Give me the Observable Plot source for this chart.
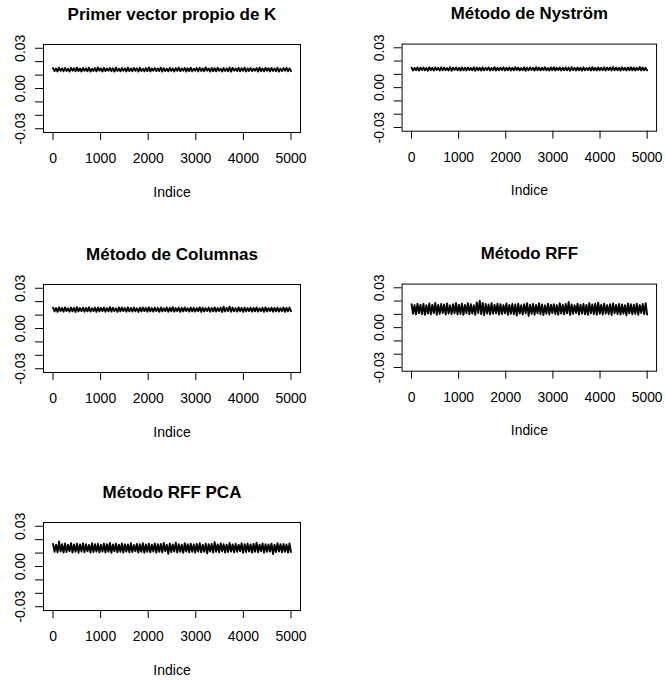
<!DOCTYPE html>
<html><head><meta charset="utf-8">
<script src="https://cdn.jsdelivr.net/npm/d3@7"></script>
<script src="https://cdn.jsdelivr.net/npm/@observablehq/plot@0.6"></script>
<style>
body{margin:0;background:#fff;}
#root{position:relative;width:666px;height:681px;font-family:"Liberation Sans",Arial,sans-serif;}
.panel{position:absolute;}
</style></head><body><div id="root"></div>
<script>
const titles = ["Primer vector propio de K","Método de Nyström","Método de Columnas","Método RFF","Método RFF PCA"];
const xLabel = "Indice";
const xTicks = [0,1000,2000,3000,4000,5000];
const yTicks = [-0.03,-0.02,-0.01,0,0.01,0.02,0.03];
const yLabelValues = [-0.03,0,0.03];
const yLabels = ["-0.03","0.00","0.03"];
const nIndex = 5000;

const seriesK = [
.0152,.0130,.0149,.0127,.0155,.0132,.0150,.0129,.0153,.0131,.0148,.0126,.0154,.0133,.0151,.0128,.0156,.0130,.0149,.0127,.0153,.0132,.0150,.0129,.0155,.0126,.0148,.0131,.0152,.0128,.0157,.0133,
.0150,.0127,.0154,.0130,.0149,.0132,.0153,.0129,.0151,.0126,.0155,.0131,.0148,.0128,.0152,.0133,.0150,.0127,.0156,.0130,.0149,.0129,.0153,.0132,.0151,.0126,.0154,.0131,.0148,.0128,.0152,.0130,
.0157,.0127,.0150,.0133,.0153,.0129,.0149,.0131,.0155,.0126,.0151,.0130,.0148,.0128,.0154,.0132,.0150,.0127,.0152,.0131,.0156,.0129,.0149,.0133,.0153,.0126,.0151,.0130,.0155,.0128,.0148,.0132,
.0152,.0127,.0154,.0131,.0150,.0129,.0157,.0133,.0149,.0126,.0153,.0130,.0151,.0128,.0155,.0132,.0148,.0127,.0152,.0131,.0150,.0129,.0156,.0126,.0153,.0133,.0149,.0130,.0154,.0128,.0151,.0132,
.0155,.0127,.0150,.0131,.0153,.0129,.0148,.0133,.0152,.0126,.0156,.0130,.0149,.0128,.0154,.0132,.0151,.0127,.0153,.0131,.0150,.0129,.0155,.0126,.0148,.0130,.0152,.0133,.0154,.0128,.0150,.0131];

const seriesNystrom = [
.0151,.0129,.0149,.0131,.0153,.0128,.0150,.0132,.0152,.0130,.0148,.0127,.0154,.0131,.0150,.0129,.0152,.0132,.0149,.0128,.0153,.0130,.0151,.0131,.0148,.0129,.0155,.0127,.0150,.0132,.0152,.0130,
.0149,.0128,.0153,.0131,.0150,.0129,.0152,.0132,.0148,.0130,.0154,.0127,.0151,.0131,.0149,.0128,.0153,.0130,.0150,.0132,.0152,.0129,.0148,.0131,.0154,.0128,.0151,.0130,.0149,.0132,.0153,.0129,
.0150,.0131,.0152,.0128,.0149,.0130,.0155,.0132,.0151,.0129,.0148,.0131,.0153,.0127,.0150,.0130,.0152,.0132,.0149,.0128,.0154,.0131,.0151,.0129,.0150,.0132,.0153,.0130,.0148,.0128,.0152,.0131,
.0154,.0129,.0150,.0132,.0152,.0128,.0149,.0131,.0153,.0130,.0151,.0127,.0155,.0132,.0149,.0129,.0152,.0131,.0150,.0128,.0153,.0130,.0148,.0132,.0151,.0129,.0154,.0131,.0150,.0128,.0152,.0130,
.0149,.0131,.0153,.0128,.0150,.0132,.0152,.0129,.0155,.0130,.0151,.0131,.0149,.0128,.0153,.0132,.0150,.0129,.0152,.0131,.0154,.0130,.0151,.0128,.0149,.0132,.0156,.0129,.0152,.0131,.0150,.0130];

const seriesColumnas = [
.0155,.0127,.0152,.0124,.0158,.0129,.0153,.0126,.0157,.0130,.0151,.0125,.0156,.0128,.0154,.0123,.0159,.0127,.0152,.0130,.0156,.0125,.0153,.0128,.0158,.0126,.0151,.0129,.0155,.0124,.0157,.0127,
.0153,.0130,.0156,.0125,.0152,.0128,.0159,.0126,.0154,.0129,.0151,.0124,.0157,.0127,.0155,.0130,.0152,.0125,.0158,.0128,.0153,.0126,.0156,.0129,.0151,.0123,.0155,.0127,.0157,.0130,.0153,.0125,
.0158,.0128,.0152,.0126,.0155,.0129,.0153,.0124,.0157,.0127,.0151,.0130,.0156,.0125,.0154,.0128,.0159,.0126,.0152,.0129,.0155,.0124,.0153,.0127,.0157,.0130,.0151,.0125,.0156,.0128,.0154,.0126,
.0152,.0129,.0158,.0124,.0154,.0127,.0151,.0130,.0156,.0125,.0153,.0128,.0157,.0126,.0152,.0129,.0155,.0123,.0162,.0127,.0154,.0130,.0163,.0125,.0156,.0128,.0152,.0126,.0158,.0129,.0153,.0124,
.0156,.0127,.0152,.0130,.0155,.0125,.0153,.0128,.0157,.0126,.0151,.0129,.0154,.0124,.0158,.0127,.0152,.0130,.0156,.0125,.0153,.0128,.0155,.0126,.0151,.0129,.0157,.0124,.0154,.0127,.0156,.0130];

const seriesRFF = [
.0176,.0104,.0170,.0099,.0181,.0108,.0173,.0101,.0178,.0096,.0169,.0106,.0183,.0100,.0172,.0109,.0186,.0097,.0171,.0103,.0179,.0110,.0174,.0098,.0182,.0105,.0168,.0101,.0177,.0107,.0185,.0099,
.0173,.0103,.0180,.0096,.0171,.0108,.0184,.0100,.0176,.0105,.0169,.0097,.0190,.0110,.0203,.0101,.0186,.0095,.0179,.0106,.0174,.0099,.0185,.0104,.0172,.0108,.0180,.0098,.0177,.0102,.0170,.0107,
.0183,.0096,.0171,.0104,.0178,.0100,.0174,.0091,.0181,.0106,.0169,.0099,.0176,.0108,.0184,.0088,.0172,.0103,.0179,.0097,.0170,.0107,.0182,.0101,.0175,.0095,.0168,.0105,.0180,.0099,.0173,.0109,
.0177,.0102,.0170,.0097,.0184,.0106,.0172,.0100,.0179,.0108,.0193,.0096,.0175,.0103,.0169,.0110,.0181,.0098,.0173,.0105,.0178,.0100,.0171,.0096,.0185,.0107,.0174,.0101,.0180,.0097,.0188,.0104,
.0172,.0099,.0181,.0106,.0170,.0101,.0177,.0095,.0183,.0108,.0171,.0102,.0179,.0098,.0174,.0105,.0169,.0093,.0182,.0107,.0176,.0100,.0172,.0104,.0180,.0097,.0170,.0109,.0178,.0101,.0184,.0098];

const seriesRFFPCA = [
.0168,.0110,.0163,.0105,.0186,.0112,.0166,.0103,.0171,.0108,.0162,.0113,.0174,.0104,.0165,.0109,.0170,.0102,.0164,.0111,.0172,.0106,.0167,.0114,.0161,.0103,.0173,.0108,.0166,.0112,.0169,.0105,
.0163,.0111,.0171,.0104,.0166,.0109,.0175,.0102,.0164,.0113,.0170,.0106,.0162,.0110,.0172,.0103,.0167,.0112,.0165,.0105,.0173,.0108,.0161,.0114,.0169,.0104,.0166,.0110,.0174,.0102,.0164,.0109,
.0170,.0106,.0163,.0112,.0172,.0103,.0166,.0110,.0168,.0105,.0175,.0113,.0162,.0094,.0171,.0108,.0165,.0111,.0178,.0104,.0167,.0109,.0163,.0102,.0173,.0112,.0166,.0106,.0170,.0110,.0164,.0103,
.0168,.0111,.0174,.0105,.0162,.0109,.0171,.0098,.0166,.0112,.0169,.0104,.0181,.0110,.0164,.0106,.0172,.0113,.0167,.0103,.0163,.0108,.0175,.0111,.0165,.0105,.0170,.0109,.0162,.0114,.0173,.0102,
.0166,.0108,.0171,.0112,.0164,.0104,.0169,.0110,.0177,.0106,.0163,.0113,.0172,.0103,.0167,.0109,.0165,.0111,.0170,.0092,.0162,.0107,.0174,.0112,.0166,.0105,.0168,.0110,.0164,.0103,.0171,.0108];

const series = [seriesK, seriesNystrom, seriesColumnas, seriesRFF, seriesRFFPCA];
const slots = [[0,0],[359,0],[0,240],[359,240],[0,478]];
const root = document.getElementById("root");

series.forEach((vals, k) => {
  const step = (nIndex - 1) / (vals.length - 1);
  const data = vals.map((v, i) => ({idx: 1 + i * step, val: v}));
  const chart = Plot.plot({
    width: 310, height: 202,
    marginLeft: 43, marginRight: 10, marginTop: 44, marginBottom: 70,
    x: {domain: [-200, 5200]},
    y: {domain: [-0.0328, 0.0328]},
    style: {fontFamily: '"Liberation Sans", Arial, sans-serif', fontSize: "14px", color: "black", background: "white", overflow: "visible"},
    marks: [
      Plot.lineY(data, {x: "idx", y: "val", stroke: "black", strokeWidth: 1.9, strokeLinejoin: "round"}),
      Plot.frame({stroke: "black", strokeWidth: 1}),
      Plot.axisX({ticks: xTicks, tickSize: 8, tickPadding: 13, fontSize: 14, label: null, tickFormat: d => String(d)}),
      Plot.axisY({ticks: yTicks, tickSize: 8, tickFormat: () => "", label: null}),
      Plot.text(yLabelValues, {y: d => d, text: (d, i) => yLabels[i], frameAnchor: "left", dx: -22.5, rotate: -90, textAnchor: "middle", lineAnchor: "middle", fontSize: 14}),
      Plot.text([xLabel], {text: d => d, frameAnchor: "bottom", lineAnchor: "middle", textAnchor: "middle", dy: 60, fontSize: 14}),
      Plot.text([titles[k]], {text: d => d, frameAnchor: "top", lineAnchor: "middle", textAnchor: "middle", dy: -30.4, fontSize: 17, fontWeight: "bold"})
    ]
  });
  const div = document.createElement("div");
  div.className = "panel";
  div.style.left = slots[k][0] + "px";
  div.style.top = slots[k][1] + "px";
  div.appendChild(chart);
  root.appendChild(div);
});
</script></body></html>
